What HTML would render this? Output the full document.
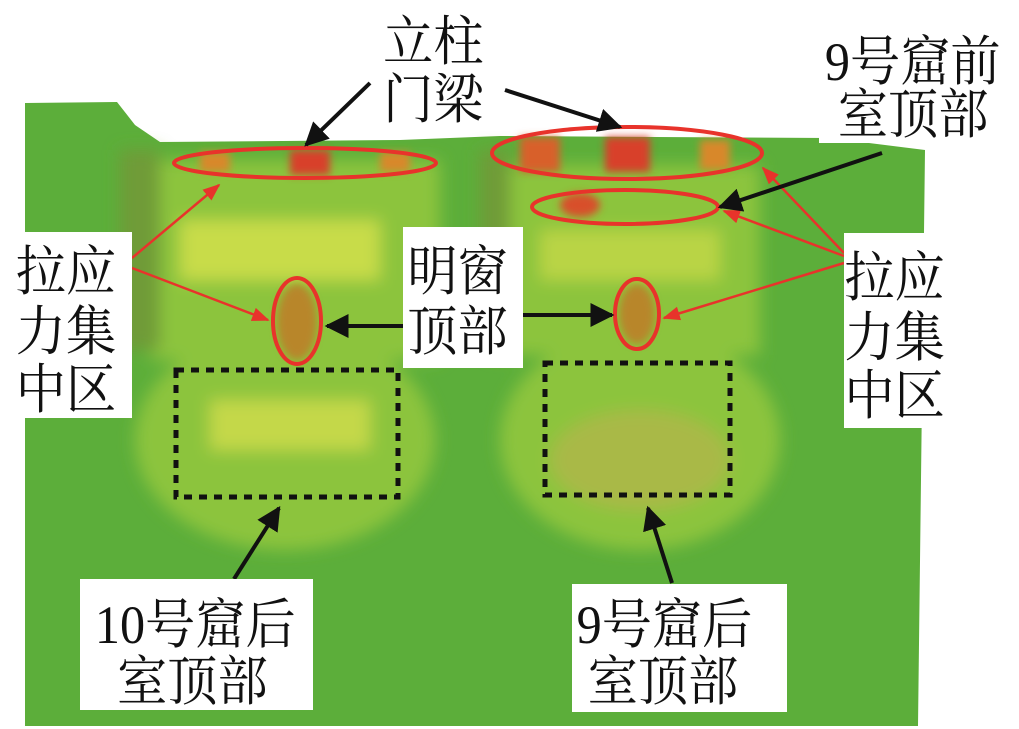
<!DOCTYPE html>
<html><head><meta charset="utf-8"><style>
html,body{margin:0;padding:0;background:#fff;}
svg{display:block;}
text{font-family:"Liberation Serif","Noto Serif CJK SC",serif;font-size:54px;fill:#111;}
</style></head><body>
<svg width="1019" height="729" viewBox="0 0 1019 729" xmlns="http://www.w3.org/2000/svg">
<defs>
<filter id="b" x="-20%" y="-20%" width="140%" height="140%"><feGaussianBlur stdDeviation="8"/></filter>
<filter id="b2" x="-20%" y="-20%" width="140%" height="140%"><feGaussianBlur stdDeviation="4"/></filter>
<marker id="ak" viewBox="0 0 10 10" refX="9" refY="5" markerWidth="6" markerHeight="6" orient="auto"><path d="M0,0 L10,5 L0,10 z" fill="#111"/></marker>
<marker id="ar" viewBox="0 0 10 10" refX="9" refY="5" markerWidth="7" markerHeight="7" orient="auto"><path d="M0,1 L10,5 L0,9 z" fill="#e8332b"/></marker>
</defs>
<path d="M25,103 L117,102 L135,125 L160,142 L400,140 L500,136 L829,138 L925,150 L918,726 L25,726 z" fill="#5cae3a"/>
<g filter="url(#b)">
<rect x="150" y="160" width="290" height="200" fill="#8cc43e"/>
<rect x="490" y="165" width="270" height="190" fill="#8cc43e"/>
<rect x="180" y="220" width="200" height="60" fill="#c8dc48"/>
<rect x="540" y="230" width="180" height="50" fill="#b9d444"/>
<ellipse cx="285" cy="440" rx="150" ry="110" fill="#8cc43e"/>
<ellipse cx="640" cy="440" rx="140" ry="110" fill="#8cc43e"/>
<rect x="210" y="400" width="160" height="50" fill="#c4d849"/>
<ellipse cx="640" cy="460" rx="90" ry="50" fill="#a9b947"/>
<rect x="120" y="150" width="40" height="200" fill="#6f9b38"/>
<rect x="480" y="150" width="30" height="200" fill="#6f9b38"/>
</g>
<g filter="url(#b2)">
<rect x="290" y="150" width="40" height="25" fill="#d8402a"/>
<rect x="200" y="152" width="30" height="20" fill="#d8882a"/>
<rect x="380" y="152" width="30" height="20" fill="#d8882a"/>
<rect x="520" y="137" width="40" height="35" fill="#d8602a"/>
<rect x="605" y="137" width="45" height="35" fill="#d8402a"/>
<rect x="700" y="140" width="30" height="30" fill="#d8882a"/>
<ellipse cx="580" cy="205" rx="20" ry="12" fill="#d8502a"/>
<ellipse cx="297" cy="322" rx="20" ry="38" fill="#b8862a"/>
<ellipse cx="637" cy="314" rx="18" ry="30" fill="#b8862a"/>
</g>
<g fill="none" stroke="#e8332b" stroke-width="4">
<ellipse cx="305" cy="163" rx="131" ry="15"/>
<ellipse cx="627" cy="153" rx="135" ry="26"/>
<ellipse cx="625" cy="207" rx="93" ry="17"/>
<ellipse cx="297" cy="321" rx="24" ry="43"/>
<ellipse cx="637" cy="314" rx="22" ry="35"/>
</g>
<g fill="none" stroke="#111" stroke-width="5" stroke-dasharray="8,7">
<rect x="176" y="370" width="222" height="127"/>
<rect x="545" y="363" width="185" height="132"/>
</g>
<g stroke="#e8332b" stroke-width="2.5" fill="none" marker-end="url(#ar)">
<line x1="132" y1="258" x2="219" y2="185"/>
<line x1="132" y1="268" x2="268" y2="320"/>
<line x1="844" y1="253" x2="763" y2="168"/>
<line x1="844" y1="256" x2="724" y2="211"/>
<line x1="844" y1="263" x2="664" y2="318"/>
</g>
<g stroke="#111" stroke-width="4" fill="none" marker-end="url(#ak)">
<line x1="370" y1="83" x2="306" y2="145"/>
<line x1="505" y1="90" x2="620" y2="127"/>
<line x1="882" y1="153" x2="720" y2="207"/>
<line x1="403" y1="326" x2="327" y2="326"/>
<line x1="523" y1="315" x2="612" y2="315"/>
<line x1="234" y1="579" x2="279" y2="508"/>
<line x1="672" y1="583" x2="648" y2="508"/>
</g>
<g fill="#fff">
<rect x="819" y="0" width="200" height="143"/>
<rect x="10" y="232" width="122" height="186"/>
<rect x="403" y="227" width="120" height="141"/>
<rect x="844" y="233" width="104" height="195"/>
<rect x="80" y="579" width="233" height="131"/>
<rect x="572" y="584" width="215" height="128"/>
</g>
<g transform="scale(0.93,1)">
<text x="412" y="60">立柱</text>
<text x="412" y="118">门梁</text>
<text x="887" y="80">9号窟前</text>
<text x="901" y="133">室顶部</text>
<text x="17" y="290">拉应</text>
<text x="17" y="350">力集</text>
<text x="17" y="408">中区</text>
<text x="438" y="290">明窗</text>
<text x="438" y="350">顶部</text>
<text x="908" y="296">拉应</text>
<text x="908" y="356">力集</text>
<text x="908" y="414">中区</text>
<text x="102" y="643">10号窟后</text>
<text x="126" y="700">室顶部</text>
<text x="620" y="643">9号窟后</text>
<text x="632" y="700">室顶部</text>
</g>
</svg>
</body></html>
